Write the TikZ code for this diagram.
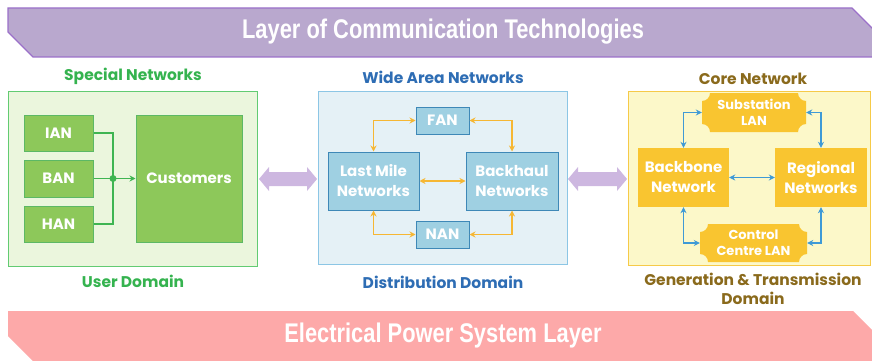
\documentclass[tikz,border=0pt]{standalone}
\usepackage{fontspec}
\setmainfont{Poppins}
\newfontfamily\bannerfont[FakeStretch=0.81]{Liberation Sans}
\usetikzlibrary{arrows.meta,calc}

\definecolor{commfill}{HTML}{B9A8CE}
\definecolor{commline}{HTML}{9B70C9}
\definecolor{powerfill}{HTML}{FDA9A9}
\definecolor{userfill}{HTML}{EBF6DD}
\definecolor{userline}{HTML}{62CB72}
\definecolor{usertext}{HTML}{35B34F}
\definecolor{gboxfill}{HTML}{8DC85A}
\definecolor{gboxline}{HTML}{5CB865}
\definecolor{gwire}{HTML}{3FB552}
\definecolor{distfill}{HTML}{E5F1F6}
\definecolor{distline}{HTML}{8CC6E5}
\definecolor{disttext}{HTML}{2E6DB4}
\definecolor{bboxfill}{HTML}{9FD0E2}
\definecolor{bboxline}{HTML}{3E88B7}
\definecolor{owire}{HTML}{F6B733}
\definecolor{corefill}{HTML}{FCF8C9}
\definecolor{coreline}{HTML}{F6CA48}
\definecolor{coretext}{HTML}{8A6A1C}
\definecolor{oboxfill}{HTML}{F9C530}
\definecolor{bwire}{HTML}{3F9AD6}
\definecolor{linkfill}{HTML}{CDB7E0}

% plaque with concave corners: x1 y1 x2 y2 radius
\newcommand\lanplaque[5]{%
  \fill[oboxfill] (#1+#5,#2) -- (#3-#5,#2)
    .. controls (#3-#5,#2+0.55*#5) and (#3-0.55*#5,#2+#5) .. (#3,#2+#5)
    -- (#3,#4-#5)
    .. controls (#3-0.55*#5,#4-#5) and (#3-#5,#4-0.55*#5) .. (#3-#5,#4)
    -- (#1+#5,#4)
    .. controls (#1+#5,#4-0.55*#5) and (#1+0.55*#5,#4-#5) .. (#1,#4-#5)
    -- (#1,#2+#5)
    .. controls (#1+0.55*#5,#2+#5) and (#1+#5,#2+0.55*#5) .. (#1+#5,#2)
    -- cycle;}

% broad two-headed link between panels: x1 x2 y
\newcommand\fatlink[3]{%
  \fill[linkfill] (#1,#3) -- (#1+10,#3-12) -- (#1+10,#3-7) -- (#2-10,#3-7)
    -- (#2-10,#3-12) -- (#2,#3) -- (#2-10,#3+12) -- (#2-10,#3+7)
    -- (#1+10,#3+7) -- (#1+10,#3+12) -- cycle;}

\tikzset{
  tip/.tip={Stealth[length=6pt,width=6pt]},
  panel/.style={line width=1.2pt, anchor=north west, inner sep=0pt},
  title/.style={font=\bfseries\fontsize{15.5}{18}\selectfont, align=center, inner sep=0pt},
  label/.style={font=\bfseries\fontsize{15}{20}\selectfont, text=white, align=center, inner sep=0pt},
  gbox/.style={label, fill=gboxfill, draw=gboxline, line width=1pt},
  bbox/.style={label, fill=bboxfill, draw=bboxline, line width=1pt},
  obox/.style={label, fill=oboxfill},
  lanbox/.style={label, font=\bfseries\fontsize{13}{16}\selectfont},
  gline/.style={draw=gwire, line width=1.5pt},
  oline/.style={draw=owire, line width=1.5pt, tip-tip},
  bline/.style={draw=bwire, line width=1.5pt, tip-tip},
  banner/.style={font=\bannerfont\bfseries\fontsize{27}{30}\selectfont, text=white, inner sep=0pt},
}

\begin{document}
\begin{tikzpicture}[x=1pt, y=-1pt]
\useasboundingbox (0,0) rectangle (872,361);

% layer banners
\begin{scope}
  \clip (0,0) rectangle (872,361);
  \filldraw[fill=commfill, draw=commline, line width=1.2pt]
    (8,8) -- (852,8) -- (901,57) -- (33,57) -- (8,32) -- cycle;
  \fill[powerfill]
    (8,311) -- (853,311) -- (903,361) -- (33,361) -- (8,336) -- cycle;
\end{scope}
\node[banner] (commlayer) at (443,32) {Layer of Communication Technologies};
\node[banner] (powerlayer) at (443,336) {Electrical Power System Layer};

% domain panels
\node[panel, fill=userfill, draw=userline, minimum width=249, minimum height=175] (user) at (8,91) {};
\node[panel, fill=distfill, draw=distline, minimum width=249, minimum height=173] (dist) at (318,91) {};
\node[panel, fill=corefill, draw=coreline, minimum width=242, minimum height=174] (core) at (628,91) {};

\node[title, text=usertext] (userhead) at (133,76) {Special Networks};
\node[title, text=usertext] (userfoot) at (133,281) {User Domain};
\node[title, text=disttext] (disthead) at (443,77) {Wide Area Networks};
\node[title, text=disttext] (distfoot) at (443,282) {Distribution Domain};
\node[title, text=coretext] (corehead) at (753,79) {Core Network};
\node[title, text=coretext, font=\bfseries\fontsize{15.5}{19}\selectfont] (corefoot) at (753,289) {Generation \& Transmission\\Domain};

% links between panels
\fatlink{259}{317}{179}
\fatlink{568}{627}{179}

% user domain
\node[gbox, minimum width=69, minimum height=36] (ian) at (58.5,133) {IAN};
\node[gbox, minimum width=69, minimum height=37] (ban) at (58.5,178.5) {BAN};
\node[gbox, minimum width=69, minimum height=36] (han) at (58.5,224) {HAN};
\node[gbox, minimum width=106, minimum height=127] (cust) at (189,178.5) {Customers};
\coordinate (jn) at (113,178.5);
\draw[gline] (ian.east) -| (jn);
\draw[gline] (han.east) -| (jn);
\draw[gline, -tip] (ban.east) -- (cust.west);
\fill[gwire] (jn) circle (3.5);

% distribution domain
\node[bbox, minimum width=53, minimum height=27] (fan) at (442.5,120.5) {FAN};
\node[bbox, minimum width=53, minimum height=27] (nan) at (442.5,234.5) {NAN};
\node[bbox, minimum width=91, minimum height=58] (lastmile) at (373.5,181) {Last Mile\\Networks};
\node[bbox, minimum width=92, minimum height=58] (backhaul) at (512,181) {Backhaul\\Networks};
\draw[oline] (lastmile.north) |- (fan.west);
\draw[oline] (backhaul.north) |- (fan.east);
\draw[oline] (lastmile.south) |- (nan.west);
\draw[oline] (backhaul.south) |- (nan.east);
\draw[oline] (lastmile.east) -- (backhaul.west);

% generation and transmission domain
\lanplaque{702}{93}{806}{132}{8}
\lanplaque{700}{224}{807}{262}{8}
\node[lanbox, minimum width=104, minimum height=39] (subst) at (754,112.5) {Substation\\LAN};
\node[lanbox, minimum width=107, minimum height=38] (ctrl) at (753.5,243) {Control\\Centre LAN};
\node[obox, minimum width=91, minimum height=59] (backbone) at (683.5,177.5) {Backbone\\Network};
\node[obox, minimum width=92, minimum height=59] (regional) at (821,177.5) {Regional\\Networks};
\draw[bline] (backbone.north) |- (subst.west);
\draw[bline] (regional.north) |- (subst.east);
\draw[bline] (backbone.south) |- (ctrl.west);
\draw[bline] (regional.south) |- (ctrl.east);
\draw[bline] (backbone.east) -- (regional.west);
\end{tikzpicture}
\end{document}
